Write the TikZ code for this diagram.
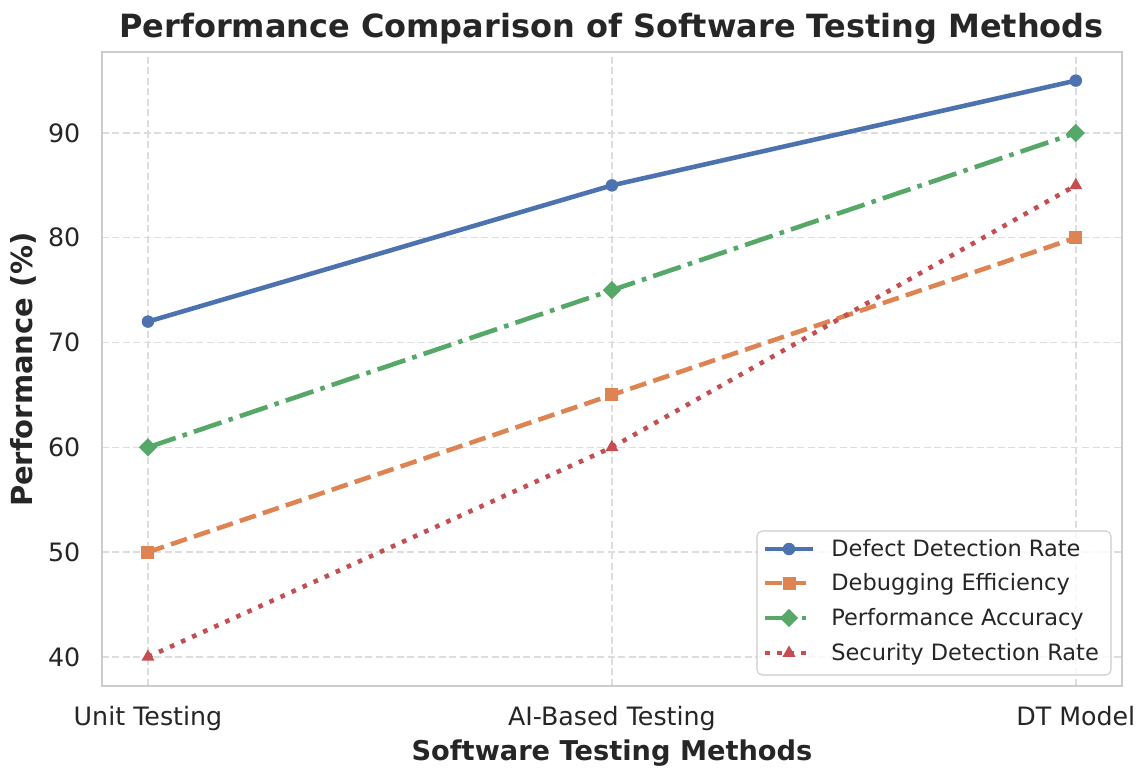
\documentclass[tikz,border=0pt]{standalone}
\usepackage{fontspec}
\setmainfont{DejaVu Sans}
\usetikzlibrary{shapes.geometric}
\definecolor{cblue}{HTML}{4C72B0}
\definecolor{corange}{HTML}{DD8452}
\definecolor{cgreen}{HTML}{55A868}
\definecolor{cred}{HTML}{C44E52}
\definecolor{ctext}{HTML}{262626}
\definecolor{cgrid}{HTML}{DDDDDD}
\definecolor{cframe}{HTML}{CCCCCC}
\begin{document}
\begin{tikzpicture}
  [x=0.02cm, y=-0.02cm, every node/.style={text=ctext, inner sep=0pt},
   gridline/.style={cgrid, line width=0.8pt, dash pattern=on 4pt off 2pt},
   defect/.style={cblue, line width=2.6pt},
   debug/.style={corange, line width=2.6pt, dash pattern=on 9.6pt off 4.2pt},
   accuracy/.style={cgreen, line width=2.6pt, dash pattern=on 16.6pt off 4.2pt on 2.6pt off 4.2pt},
   security/.style={cred, line width=2.6pt, dash pattern=on 2.6pt off 4.3pt},
   mdot/.style={circle, fill=cblue, minimum size=0.25cm},
   msquare/.style={rectangle, fill=corange, minimum size=0.26cm},
   mdiamond/.style={diamond, fill=cgreen, minimum size=0.37cm},
   mtriangle/.style={regular polygon, regular polygon sides=3, fill=cred, minimum size=0.3cm},
   ticklabel/.style={font=\fontsize{14.4}{17}\selectfont},
   axislabel/.style={font=\bfseries\fontsize{15.5}{18}\selectfont},
   legendtext/.style={font=\fontsize{12.8}{15}\selectfont, anchor=base west}]
  \fill[white] (0,0) rectangle (1141,767);
  \useasboundingbox (0,0) rectangle (1141,767);

  \begin{scope}[shift={(2.96cm,-21.524cm)}, x=9.28cm, y=0.2096cm]
    \foreach \v in {40,50,...,90}
      \draw[gridline] (-0.1,\v) -- (2.1,\v);
    \foreach \i in {0,1,2}
      \draw[gridline] (\i,37.25) -- (\i,97.75);
    \draw[cframe, line width=1.1pt] (-0.1,37.25) rectangle (2.1,97.75);

    \foreach \v in {40,50,...,90}
      \node[ticklabel, anchor=east, xshift=-0.42cm] (y\v) at (-0.1,\v) {\v};
    \foreach \i/\t in {0/Unit Testing, 1/AI-Based Testing, 2/DT Model}
      \node[ticklabel, anchor=base, yshift=-0.8cm] (x\i) at (\i,37.25) {\t};

    \foreach \i/\a/\b/\c/\d in {0/72/50/60/40, 1/85/65/75/60, 2/95/80/90/85} {
      \coordinate (a\i) at (\i,\a);
      \coordinate (b\i) at (\i,\b);
      \coordinate (c\i) at (\i,\c);
      \coordinate (d\i) at (\i,\d);
    }

    \draw[defect] (a0) -- (a1) -- (a2);
    \foreach \i in {0,1,2} \node[mdot] (ma\i) at (a\i) {};
    \draw[debug] (b0) -- (b1) -- (b2);
    \foreach \i in {0,1,2} \node[msquare] (mb\i) at (b\i) {};
    \draw[accuracy] (c0) -- (c1) -- (c2);
    \foreach \i in {0,1,2} \node[mdiamond] (mc\i) at (c\i) {};
    \draw[security] (d0) -- (d1) -- (d2);
    \foreach \i in {0,1,2} \node[mtriangle] (md\i) at (d\i) {};
  \end{scope}

  \node[font=\bfseries\fontsize{18.2}{22}\selectfont, anchor=base] (title) at (611.5,38)
    {Performance Comparison of Software Testing Methods};
  \node[axislabel, anchor=base] (xlabel) at (612,760) {Software Testing Methods};
  \node[axislabel, font=\bfseries\fontsize{16.5}{19}\selectfont, anchor=base, rotate=90]
    (ylabel) at (32,369.5) {Performance (\%)};

  \draw[cframe, fill=white, fill opacity=0.8, rounded corners=3pt, line width=0.6pt]
    (757,531) rectangle (1111,675);
  \foreach \r/\s/\m/\t in {549/defect/mdot/Defect Detection Rate,
                           583/debug/msquare/Debugging Efficiency,
                           618/accuracy/mdiamond/Performance Accuracy,
                           653/security/mtriangle/Security Detection Rate} {
    \coordinate (la\r) at (765,\r);
    \coordinate (lb\r) at (813,\r);
    \draw[\s] (la\r) -- (lb\r);
    \node[\m] (lm\r) at (789,\r) {};
    \node[legendtext, yshift=-0.15cm] (lt\r) at (831,\r) {\t};
  }
\end{tikzpicture}
\end{document}
